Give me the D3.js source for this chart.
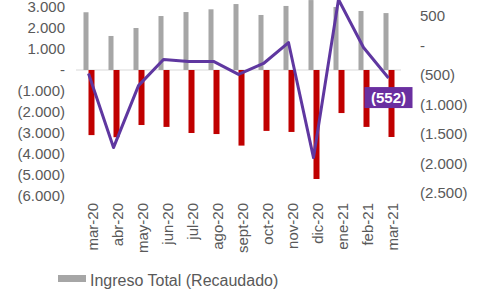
<!DOCTYPE html>
<html>
<head>
<meta charset="utf-8">
<script src="https://cdn.jsdelivr.net/npm/d3@7"></script>
<style>
  body { margin: 0; background: #fff; }
  text { font-family: "Liberation Sans", Arial, sans-serif; }
</style>
</head>
<body>
<div id="chart"></div>
<script>
// Chart data
const months = ["mar-20", "abr-20", "may-20", "jun-20", "jul-20", "ago-20", "sept-20",
                "oct-20", "nov-20", "dic-20", "ene-21", "feb-21", "mar-21"];
const ingreso = [2750, 1620, 2000, 2570, 2760, 2890, 3140, 2620, 3050, 3330, 3000, 2810, 2710];
const gasto = [-3100, -3200, -2620, -2710, -3000, -3050, -3600, -2900, -2950, -5190, -2050, -2710, -3190];
const resultado = [-475, -1730, -680, -237, -270, -270, -490, -305, 50, -1900, 780, -34, -552];
const leftTicks = [3000, 2000, 1000, 0, -1000, -2000, -3000, -4000, -5000, -6000];
const rightTicks = [500, 0, -500, -1000, -1500, -2000, -2500];

const width = 480, height = 300;

const colors = { ingreso: "#a6a6a6", gasto: "#c00000", line: "#5f37a0", axis: "#595959" };

// number format like "1.000" and "(1.000)"
function fmt(v) {
  if (v === 0) return "-";
  const s = Math.abs(v).toString().replace(/\B(?=(\d{3})+(?!\d))/g, ".");
  return v < 0 ? "(" + s + ")" : s;
}

const svg = d3.select("#chart").append("svg")
  .attr("width", width)
  .attr("height", height);

const x = d3.scaleBand()
  .domain(months)
  .range([76, 401]);

const yL = d3.scaleLinear().domain([-6000, 3000]).range([196, 7]);
const yR = d3.scaleLinear().domain([-2500, 500]).range([193, 16]);

// baseline
svg.append("line")
  .attr("x1", 76).attr("x2", 401)
  .attr("y1", yL(0)).attr("y2", yL(0))
  .attr("stroke", "#d9d9d9").attr("stroke-width", 1);

const barW = 5;

// Ingreso bars (gray, left of centre)
svg.append("g").selectAll("rect")
  .data(months)
  .join("rect")
  .attr("x", (d, i) => x(d) + x.bandwidth() / 2 - barW)
  .attr("y", (d, i) => yL(ingreso[i]))
  .attr("width", barW)
  .attr("height", (d, i) => yL(0) - yL(ingreso[i]))
  .attr("fill", colors.ingreso);

// Gasto bars (red, right of centre)
svg.append("g").selectAll("rect")
  .data(months)
  .join("rect")
  .attr("x", (d, i) => x(d) + x.bandwidth() / 2)
  .attr("y", yL(0))
  .attr("width", barW + 1)
  .attr("height", (d, i) => yL(gasto[i]) - yL(0))
  .attr("fill", colors.gasto);

// Resultado line on right axis
const line = d3.line()
  .x((d, i) => x(months[i]) + x.bandwidth() / 2)
  .y(d => yR(d));

svg.append("path")
  .datum(resultado)
  .attr("d", line)
  .attr("fill", "none")
  .attr("stroke", colors.line)
  .attr("stroke-width", 3)
  .attr("stroke-linejoin", "round");

// Left axis
const axL = svg.append("g")
  .attr("transform", "translate(65,0)")
  .call(d3.axisLeft(yL).tickValues(leftTicks).tickFormat(fmt).tickSize(0).tickPadding(0));
axL.select(".domain").remove();
axL.selectAll("text")
  .attr("fill", colors.axis)
  .style("font-size", "15px")
  .style("font-family", "Liberation Sans, Arial, sans-serif");

// Right axis
const axR = svg.append("g")
  .attr("transform", "translate(420,0)")
  .call(d3.axisRight(yR).tickValues(rightTicks).tickFormat(fmt).tickSize(0).tickPadding(0));
axR.select(".domain").remove();
axR.selectAll("text")
  .attr("fill", colors.axis)
  .style("font-size", "15px")
  .style("font-family", "Liberation Sans, Arial, sans-serif");

// X labels (rotated)
svg.append("g").selectAll("text")
  .data(months)
  .join("text")
  .attr("transform", d => `translate(${x(d) + x.bandwidth() / 2 + 9},203) rotate(-90)`)
  .attr("text-anchor", "end")
  .attr("fill", colors.axis)
  .style("font-size", "15px")
  .text(d => d);

// Last value label
const lastI = resultado.length - 1;
const lx = x(months[lastI]) + x.bandwidth() / 2;
const ly = yR(resultado[lastI]);
svg.append("rect")
  .attr("x", lx - 24).attr("y", ly + 9)
  .attr("width", 48).attr("height", 21)
  .attr("fill", "#6a2fa0");
svg.append("text")
  .attr("x", lx).attr("y", ly + 25)
  .attr("text-anchor", "middle")
  .attr("fill", "#fff")
  .style("font-size", "15px")
  .style("font-weight", "bold")
  .text(fmt(resultado[lastI]));

// Legend
svg.append("rect")
  .attr("x", 58).attr("y", 275)
  .attr("width", 28).attr("height", 7)
  .attr("fill", colors.ingreso);
svg.append("text")
  .attr("x", 90).attr("y", 285.5)
  .attr("fill", colors.axis)
  .style("font-size", "16px")
  .text("Ingreso Total (Recaudado)");
</script>
</body>
</html>
